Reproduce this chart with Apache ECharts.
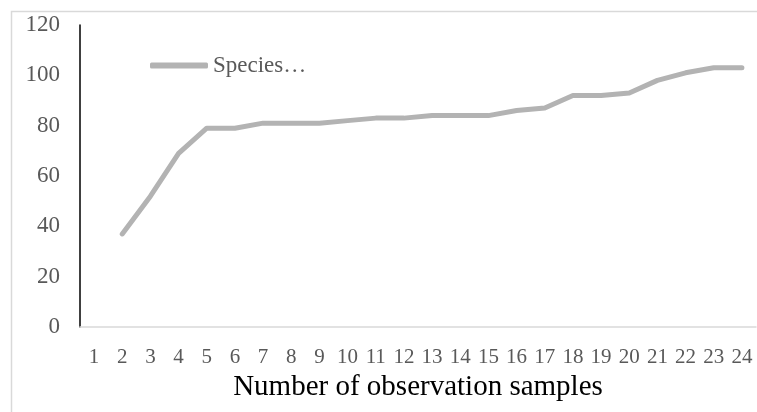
<!DOCTYPE html>
<html>
<head>
<meta charset="utf-8">
<script src="https://cdn.jsdelivr.net/npm/echarts@6/dist/echarts.min.js"></script>
<style>html,body{margin:0;padding:0;background:#fff;}#c{width:757px;height:412px;}</style>
</head>
<body>
<div id="c"></div>
<script>
var categories = ['1','2','3','4','5','6','7','8','9','10','11','12','13','14','15','16','17','18','19','20','21','22','23','24'];
var speciesValues = [null,37,52,69,79,79,81,81,81,82,83,83,84,84,84,86,87,92,92,93,98,101,103,103];
var yTicks = {min:0, max:120, interval:20};
var seriesName = 'Species…';
var xAxisTitle = 'Number of observation samples';

var chart = echarts.init(document.getElementById('c'));
chart.setOption({
  animation:false,
  backgroundColor:'#fff',
  graphic:[{type:'rect', shape:{x:11.5,y:11.5,width:800,height:500}, style:{fill:'none',stroke:'#d9d9d9',lineWidth:1.5}, silent:true, z:-10}],
  grid:{left:80,right:1,top:25,bottom:85,containLabel:false},
  legend:{left:145,top:49,itemWidth:58,itemHeight:6,icon:'roundRect',itemGap:0,
    textStyle:{fontFamily:'Liberation Serif',fontSize:23,color:'#595959'},
    data:[seriesName]},
  xAxis:{type:'category',data:categories,boundaryGap:true,
    axisLine:{lineStyle:{color:'#d9d9d9',width:1.5}},axisTick:{show:false},
    axisLabel:{interval:0,fontFamily:'Liberation Serif',fontSize:21,color:'#595959',margin:20},
    name:xAxisTitle,nameLocation:'middle',nameGap:46,
    nameTextStyle:{fontFamily:'Liberation Serif',fontSize:29,color:'#000'}},
  yAxis:{type:'value',min:yTicks.min,max:yTicks.max,interval:yTicks.interval,
    axisLine:{show:true,lineStyle:{color:'#000',width:1.5}},axisTick:{show:false},
    splitLine:{show:false},
    axisLabel:{fontFamily:'Liberation Serif',fontSize:23,color:'#595959',margin:20}},
  series:[{name:seriesName,type:'line',data:speciesValues,symbol:'none',connectNulls:false,
    lineStyle:{color:'#b3b3b3',width:5,cap:'round',join:'round'},itemStyle:{color:'#b3b3b3'}}]
});
</script>
</body>
</html>
